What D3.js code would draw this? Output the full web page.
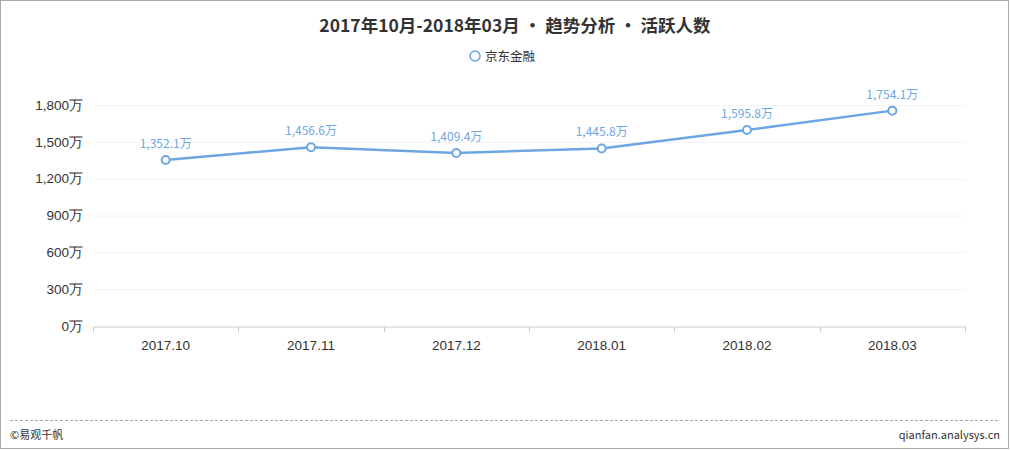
<!DOCTYPE html>
<html><head><meta charset="utf-8">
<script src="https://cdnjs.cloudflare.com/ajax/libs/d3/7.8.5/d3.min.js"></script>
<style>
body{margin:0;background:#fff;}
svg{display:block;font-family:"Noto Sans CJK SC","Noto Sans",sans-serif;}
</style></head>
<body><svg id="c" width="1010" height="450"></svg>
<script>
const categories = ["2017.10","2017.11","2017.12","2018.01","2018.02","2018.03"];
const values = [1352.1,1456.6,1409.4,1445.8,1595.8,1754.1];
const yTicks = [0,300,600,900,1200,1500,1800];
const seriesName = "京东金融";
const title = "2017年10月-2018年03月 • 趋势分析 • 活跃人数";

const svg = d3.select("#c");
const color = "#6ea6e4";
const fmt = d3.format(",.1f");
const fmtT = d3.format(",");

svg.append("rect").attr("x",0.5).attr("y",0.5).attr("width",1008).attr("height",448)
  .attr("fill","#fff").attr("stroke","#aaa");

svg.append("text").attr("x",515).attr("y",32).attr("text-anchor","middle")
  .attr("font-size",17.5).attr("font-weight","bold").attr("fill","#333").text(title);

svg.append("circle").attr("cx",475).attr("cy",56).attr("r",5).attr("fill","#fff")
  .attr("stroke",color).attr("stroke-width",1.5);
svg.append("text").attr("x",485).attr("y",60.5).attr("font-size",12.5).attr("fill","#333").text(seriesName);

const x = d3.scaleBand().domain(categories).range([93,965]);
const y = d3.scaleLinear().domain([0,1800]).range([326,105]);

// grid
svg.append("g").selectAll("line").data(yTicks.filter(d=>d>0)).join("line")
  .attr("x1",93).attr("x2",965).attr("y1",d=>y(d)+0.5).attr("y2",d=>y(d)+0.5)
  .attr("stroke","#f2f2f2");

// y axis labels
const ya = svg.append("g").attr("transform","translate(86,0)")
  .call(d3.axisLeft(y).tickValues(yTicks).tickSize(0).tickFormat(d=>fmtT(d)+"万"));
ya.select(".domain").remove();
ya.selectAll("text").attr("font-size",13.5).attr("fill","#333").attr("font-family",null);

// x axis
const xa = svg.append("g").attr("transform","translate(0,326.5)")
  .call(d3.axisBottom(x).tickSize(0).tickPadding(14));
xa.select(".domain").attr("stroke","#ccc");
xa.selectAll("text").attr("font-size",13.5).attr("fill","#333").attr("font-family",null);
const bounds = categories.map(c=>x(c)).concat([x.range()[1]]);
svg.append("g").selectAll("line").data(bounds).join("line")
  .attr("x1",d=>Math.round(d)+0.5).attr("x2",d=>Math.round(d)+0.5).attr("y1",326.5).attr("y2",332)
  .attr("stroke","#ccc");

const cx = c=>x(c)+x.bandwidth()/2;
const line = d3.line().x((d,i)=>cx(categories[i])).y(d=>y(d));
svg.append("path").datum(values).attr("d",line).attr("fill","none")
  .attr("stroke",color).attr("stroke-width",2.5);
svg.append("g").selectAll("circle").data(values).join("circle")
  .attr("cx",(d,i)=>cx(categories[i])).attr("cy",d=>y(d)).attr("r",4)
  .attr("fill","#fff").attr("stroke",color).attr("stroke-width",2);
svg.append("g").selectAll("text").data(values).join("text")
  .attr("x",(d,i)=>cx(categories[i])).attr("y",d=>y(d)-12).attr("text-anchor","middle")
  .attr("font-size",12).attr("fill",color).text(d=>fmt(d)+"万");

// footer
svg.append("line").attr("x1",10).attr("x2",1000).attr("y1",420.5).attr("y2",420.5)
  .attr("stroke","#aaa").attr("stroke-dasharray","3,2");
svg.append("text").attr("x",10).attr("y",439).attr("font-size",11).attr("fill","#333").text("©易观千帆");
svg.append("text").attr("x",1000).attr("y",439).attr("text-anchor","end").attr("font-size",11).attr("fill","#333").text("qianfan.analysys.cn");
</script></body></html>
